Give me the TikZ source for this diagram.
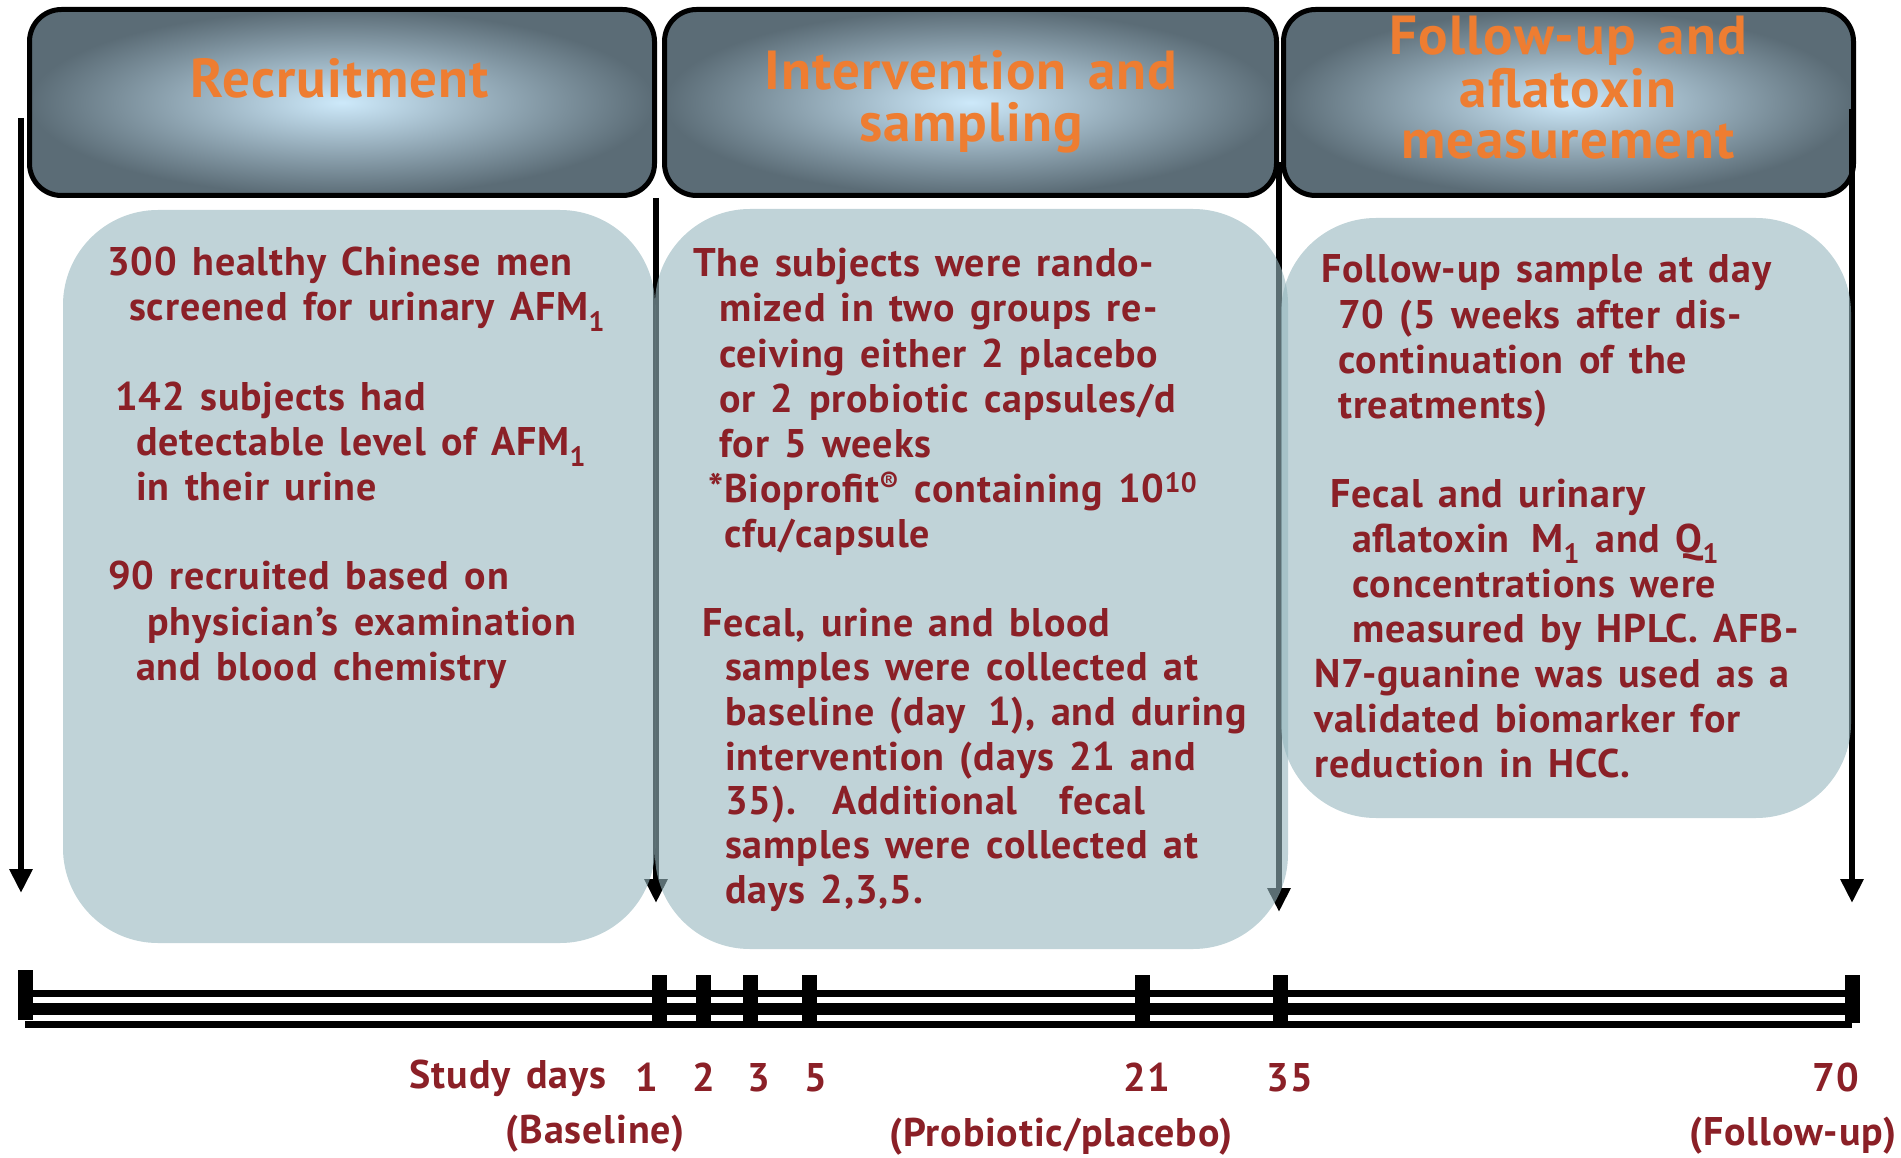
\documentclass[tikz,border=0pt]{standalone}
\usepackage{fontspec}
\setmainfont{PT Sans}[LetterSpace=2.2, WordSpace=1.4]
\usetikzlibrary{arrows.meta}
\definecolor{hdrin}{HTML}{CDE9FA}
\definecolor{hdrout}{HTML}{5B6C76}
\definecolor{boxfill}{HTML}{96B7BE}
\definecolor{txtred}{HTML}{8B2027}
\definecolor{orng}{HTML}{EE7D31}
\begin{document}
\begin{tikzpicture}[x=1pt,y=-1pt,
  hdr/.style={draw=black, line width=5pt, rounded corners=32pt, inner color=hdrin, outer color=hdrout, inner sep=0pt},
  cbox/.style={fill=boxfill, fill opacity=0.6, rounded corners=95pt, inner sep=0pt, draw=none},
  ttl/.style={anchor=base, inner sep=0pt, text=orng, font=\fontsize{55}{60}\selectfont\bfseries},
  body/.style={anchor=base west, inner sep=0pt, text=txtred, font=\fontsize{40}{45}\selectfont\bfseries},
  lbl/.style={anchor=base, inner sep=0pt, text=txtred, font=\fontsize{40}{44}\selectfont\bfseries},
  arr/.style={line width=6pt, -{Triangle[width=22pt,length=24pt]}},
  tickbar/.style={fill=black, draw=none, inner sep=0pt, minimum width=15pt, minimum height=46pt},
]
\useasboundingbox[fill=white] (0,0) rectangle (1901,1158);

% headers
\node[hdr, minimum width=625pt, minimum height=186pt] (h1) at (342,102.5) {};
\node[hdr, minimum width=612pt, minimum height=186pt] (h2) at (970.5,102.5) {};
\node[hdr, minimum width=570pt, minimum height=186pt] (h3) at (1568.5,102.5) {};
\node[ttl] (h1t) at (340,98) {Recruitment};
\node[ttl] (h2ta) at (971,90) {Intervention and};
\node[ttl] (h2tb) at (971,142) {sampling};
\node[ttl] (h3ta) at (1568,55) {Follow-up and};
\node[ttl] (h3tb) at (1568,108) {aflatoxin};
\node[ttl] (h3tc) at (1568,159) {measurement};

% arrows
\coordinate (a1s) at (21,118);   \coordinate (a1e) at (21,893);
\coordinate (a2s) at (656,198);  \coordinate (a2e) at (656,903);
\coordinate (a3s) at (1279,162); \coordinate (a3e) at (1279,912);
\coordinate (a4s) at (1852,109); \coordinate (a4e) at (1852,903);
\draw[arr] (a1s) -- (a1e);
\draw[arr] (a2s) -- (a2e);
\draw[arr] (a3s) -- (a3e);
\draw[arr] (a4s) -- (a4e);

% content boxes
\node[cbox, minimum width=592pt, minimum height=733pt] (c1) at (359,576.5) {};
\node[cbox, minimum width=633pt, minimum height=740pt] (c2) at (971.5,579) {};
\node[cbox, minimum width=570pt, minimum height=600pt] (c3) at (1566,518) {};

% box 1 text
\node[body] (b1a) at (107,276) {300 healthy Chinese men};
\node[body] (b1b) at (129,320) {screened for urinary AFM\textsubscript{1}};
\node[body] (b1c) at (115,410) {142 subjects had};
\node[body] (b1d) at (136,455) {detectable level of AFM\textsubscript{1}};
\node[body] (b1e) at (136,500) {in their urine};
\node[body] (b1f) at (108,589) {90 recruited based on};
\node[body] (b1g) at (147,635) {physician’s examination};
\node[body] (b1h) at (136,680) {and blood chemistry};

% box 2 text
\node[body] (b2a) at (693,277) {The subjects were rando-};
\node[body] (b2b) at (719,322) {mized in two groups re-};
\node[body] (b2c) at (719,367) {ceiving either 2 placebo};
\node[body] (b2d) at (719,412) {or 2 probiotic capsules/d};
\node[body] (b2e) at (719,457) {for 5 weeks};
\node[body] (b2f) at (708,502) {*Bioprofit\textsuperscript{®} containing 10\textsuperscript{10}};
\node[body] (b2g) at (724,547) {cfu/capsule};
\node[body] (b2h) at (702,636) {Fecal, urine and blood};
\node[body] (b2i) at (725,680) {samples were collected at};
\node[body] (b2j) at (725,725) {baseline (day\hspace{22pt}1), and during};
\node[body] (b2k) at (725,770) {intervention (days 21 and};
\node[body] (b2l) at (725,814) {35).\hspace{36pt}Additional\hspace{42pt}fecal};
\node[body] (b2m) at (725,858) {samples were collected at};
\node[body] (b2n) at (725,903) {days 2,3,5.};

% box 3 text
\node[body] (b3a) at (1321,283) {Follow-up sample at day};
\node[body] (b3b) at (1338,328) {70 (5 weeks after dis-};
\node[body] (b3c) at (1338,373) {continuation of the};
\node[body] (b3d) at (1338,418) {treatments)};
\node[body] (b3e) at (1330,507) {Fecal and urinary};
\node[body] (b3f) at (1352,552) {aflatoxin\hspace{22pt}M\textsubscript{1} and Q\textsubscript{1}};
\node[body] (b3g) at (1352,597) {concentrations were};
\node[body] (b3h) at (1352,642) {measured by HPLC. AFB-};
\node[body] (b3i) at (1314,687) {N7-guanine was used as a};
\node[body] (b3j) at (1314,732) {validated biomarker for};
\node[body] (b3k) at (1314,777) {reduction in HCC.};

% timeline
\coordinate (tlL) at (25,0);
\coordinate (tlR) at (1852,0);
\draw[line width=7pt] (tlL |- 0,993) -- (tlR |- 0,993);
\draw[line width=12pt] (tlL |- 0,1009) -- (tlR |- 0,1009);
\draw[line width=7pt] (tlL |- 0,1024) -- (tlR |- 0,1024);
\node[tickbar, minimum height=50pt] (t0) at (25,995) {};
\node[tickbar] (t1) at (659,997.5) {};
\node[tickbar] (t2) at (703,997.5) {};
\node[tickbar] (t3) at (750,997.5) {};
\node[tickbar] (t5) at (809,997.5) {};
\node[tickbar] (t21) at (1142,997.5) {};
\node[tickbar] (t35) at (1280,997.5) {};
\node[tickbar, minimum height=48pt] (t70) at (1852,999) {};

% labels
\node[lbl] (lsd) at (508,1088) {Study days};
\node[lbl] (l1) at (647,1091) {1};
\node[lbl] (l2) at (704,1091) {2};
\node[lbl] (l3) at (759,1091) {3};
\node[lbl] (l5) at (816,1091) {5};
\node[lbl] (l21) at (1147,1091) {21};
\node[lbl] (l35) at (1290,1091) {35};
\node[lbl] (l70) at (1836,1091) {70};
\node[lbl] (lbase) at (595,1143) {(Baseline)};
\node[lbl] (lprob) at (1061,1146) {(Probiotic/placebo)};
\node[lbl] (lfol) at (1793,1145) {(Follow-up)};
\end{tikzpicture}
\end{document}
